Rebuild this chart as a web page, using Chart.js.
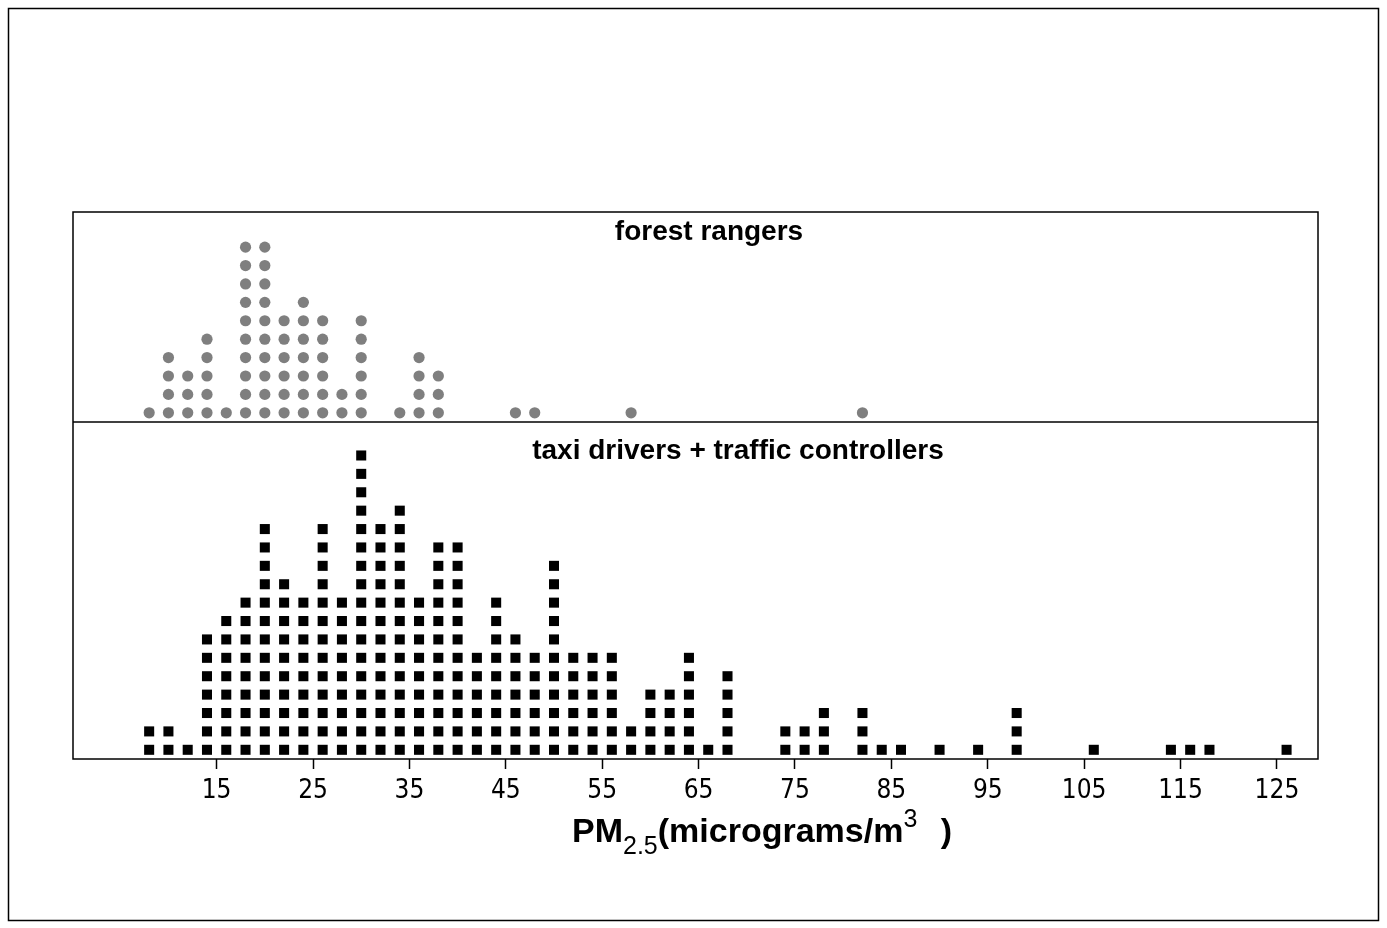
<!DOCTYPE html>
<html><head><meta charset="utf-8">
<script src="https://cdn.jsdelivr.net/npm/chart.js@4.4.1/dist/chart.umd.min.js"></script>
<style>html,body{margin:0;padding:0;background:#fff}canvas{display:block}</style>
</head><body>
<canvas id="c" width="1387" height="928"></canvas>
<script>
// ---- data ----
const rangerValues = [8,10,12,14,16,18,20,22,24,26,28,30,34,36,38,46,48,58,82];
const rangerCounts = [1,4,3,5,1,10,10,6,7,6,2,6,1,4,3,1,1,1,1];
const taxiValues = [8,10,12,14,16,18,20,22,24,26,28,30,32,34,36,38,40,42,44,46,48,50,52,54,56,58,60,62,64,66,68,74,76,78,82,84,86,90,94,98,106,114,116,118,126];
const taxiCounts = [2,2,1,7,8,9,13,10,9,13,9,17,13,14,9,12,12,6,9,7,6,11,6,6,6,2,4,4,6,1,5,2,2,3,3,1,1,1,1,3,1,1,1,1,1];
const tickValues = [15,25,35,45,55,65,75,85,95,105,115,125];
const panelTitles = ['forest rangers', 'taxi drivers + traffic controllers'];
const axisTitleParts = ['PM', '2.5', '(micrograms/m', '3', ' )'];

function stackDots(values, counts) {
  const pts = [];
  values.forEach((v, i) => { for (let k = 1; k <= counts[i]; k++) pts.push({x: v, y: k}); });
  return pts;
}

const framePlugin = {
  id: 'frame',
  afterDraw(chart) {
    const {ctx, chartArea: a, scales} = chart;
    ctx.save();
    ctx.strokeStyle = '#000';
    ctx.lineWidth = 1.5;
    // outer figure border
    ctx.strokeRect(8.5, 8.5, 1370, 912);
    // panel frame
    ctx.strokeRect(a.left, a.top, a.right - a.left, a.bottom - a.top);
    const div = scales.yBot.top;
    ctx.beginPath(); ctx.moveTo(a.left, div); ctx.lineTo(a.right, div); ctx.stroke();
    // panel titles
    ctx.fillStyle = '#000';
    ctx.textAlign = 'center';
    ctx.textBaseline = 'alphabetic';
    ctx.font = 'bold 28px "Liberation Sans", Arial, sans-serif';
    ctx.fillText(panelTitles[0], a.left + 636, scales.yTop.top + 28);
    ctx.fillText(panelTitles[1], a.left + 665, div + 37);
    // x axis title with sub/superscript
    const bold = 'bold 34px "Liberation Sans", Arial, sans-serif';
    const small = '25px "Liberation Sans", Arial, sans-serif';
    const styles = [[bold, 0, 0], [small, 12, 0], [bold, 0, 0], [small, -15, 0], [bold, 0, 14]];
    let x = 572; const base = 842;
    ctx.textAlign = 'left';
    axisTitleParts.forEach((t, i) => {
      ctx.font = styles[i][0];
      x += styles[i][2];
      ctx.fillText(t, x, base + styles[i][1]);
      x += ctx.measureText(t).width;
    });
    ctx.restore();
  }
};

new Chart(document.getElementById('c'), {
  type: 'scatter',
  data: {
    datasets: [
      {data: stackDots(rangerValues, rangerCounts), yAxisID: 'yTop', xAxisID: 'x',
       pointStyle: 'circle', pointRadius: 5.6, pointHoverRadius: 5.6,
       backgroundColor: '#7f7f7f', borderWidth: 0},
      {data: stackDots(taxiValues, taxiCounts), yAxisID: 'yBot', xAxisID: 'x',
       pointStyle: 'rect', pointRadius: 7.1, pointHoverRadius: 7.1,
       backgroundColor: '#000', borderWidth: 0}
    ]
  },
  options: {
    responsive: false,
    animation: false,
    layout: {padding: {left: 73, right: 69, top: 212, bottom: 0}},
    plugins: {legend: {display: false}, tooltip: {enabled: false}},
    scales: {
      x: {
        type: 'linear', position: 'bottom', min: 0.1, max: 129.26,
        afterBuildTicks: s => { s.ticks = tickValues.map(v => ({value: v})); },
        afterFit: s => { s.height = 928 - 759; },
        grid: {drawOnChartArea: false, drawTicks: true, tickLength: 10, tickWidth: 1.5, tickColor: '#000'},
        border: {display: false},
        ticks: {color: '#000', padding: 7, maxRotation: 0, autoSkip: false,
                font: {family: '"DejaVu Sans Condensed", "DejaVu Sans", sans-serif', size: 26}}
      },
      yBot: {type: 'linear', position: 'left', stack: 'panels', stackWeight: 337, min: 0.5, max: 18.82, display: false},
      yTop: {type: 'linear', position: 'left', stack: 'panels', stackWeight: 210, min: 0.5, max: 11.91, display: false}
    }
  },
  plugins: [framePlugin]
});
</script>
</body></html>
